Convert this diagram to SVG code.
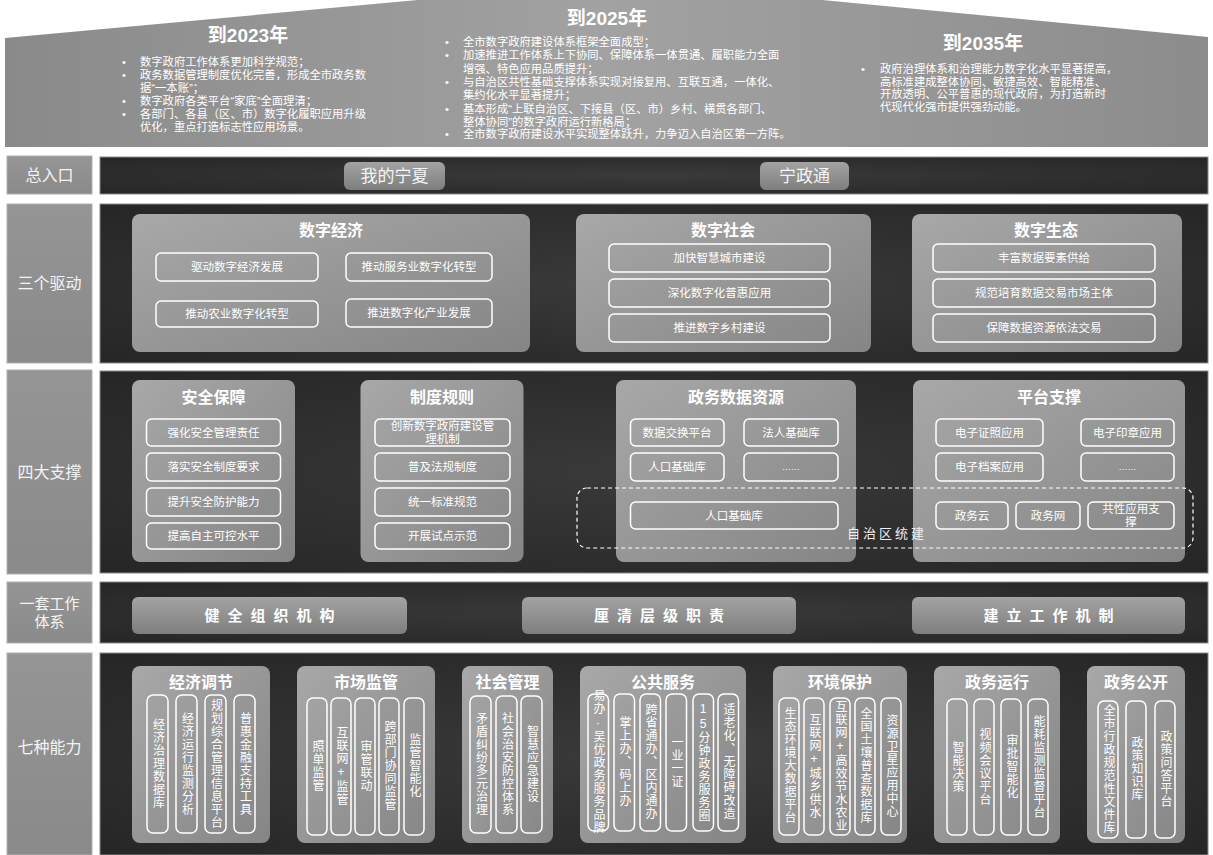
<svg xmlns="http://www.w3.org/2000/svg" width="1213" height="855" viewBox="0 0 1213 855">
<defs>
<linearGradient id="roofG" x1="0" y1="0" x2="1" y2="0">
<stop offset="0" stop-color="#8a8a8a"/><stop offset="0.5" stop-color="#a2a2a2"/><stop offset="1" stop-color="#8c8c8c"/>
</linearGradient>
<radialGradient id="panelG" cx="0.5" cy="0.5" r="0.7">
<stop offset="0" stop-color="#3a3a3a"/><stop offset="1" stop-color="#262626"/>
</radialGradient>
<linearGradient id="cardG" x1="0" y1="0" x2="1" y2="1">
<stop offset="0" stop-color="#a8a8a8"/><stop offset="1" stop-color="#858585"/>
</linearGradient>
<linearGradient id="labelG" x1="0" y1="0" x2="0" y2="1">
<stop offset="0" stop-color="#959595"/><stop offset="1" stop-color="#8a8a8a"/>
</linearGradient>
<linearGradient id="btnG" x1="0" y1="0" x2="0" y2="1">
<stop offset="0" stop-color="#a3a3a3"/><stop offset="1" stop-color="#7e7e7e"/>
</linearGradient>
<style>
text{font-family:'Liberation Sans','Noto Sans CJK SC',sans-serif;fill:#ffffff}
.roof{fill:url(#roofG)}
.yr{font-size:19px;font-weight:bold;text-anchor:middle}
.bl{font-size:11.3px}
.lab{fill:url(#labelG);stroke:#b0b0b0;stroke-width:1}
.labt{font-size:16px;text-anchor:middle;fill:#f4f4f4}
.panel{fill:url(#panelG);stroke:#8a8a8a;stroke-width:1}
.card{fill:url(#cardG)}
.ct{font-size:16px;font-weight:bold;text-anchor:middle}
.sub{fill:none;stroke:#ffffff;stroke-width:1.5}
.st{font-size:11.5px;text-anchor:middle}
.btn{fill:url(#btnG)}
.bt{font-size:17px;text-anchor:middle;fill:#f4f4f4}
.wb{font-size:15px;font-weight:bold;text-anchor:middle;letter-spacing:8px}
.pill{fill:none;stroke:#ffffff;stroke-width:1.5}
.vt{font-size:12px;text-anchor:middle;letter-spacing:1px;writing-mode:vertical-rl;text-orientation:upright}
.dash{fill:none;stroke:#ffffff;stroke-width:1.2;stroke-dasharray:4 3}
</style>
</defs>
<rect width="1213" height="855" fill="#ffffff"/>

<g id="roof">
<polygon class="roof" points="5,38 624,-19 1208,37 1208,147 5,147"/>
<text class="yr" x="248" y="42">到2023年</text>
<text class="bl" x="122" y="66">•</text>
<text class="bl" x="140" y="66">数字政府工作体系更加科学规范；</text>
<text class="bl" x="122" y="79">•</text>
<text class="bl" x="140" y="79">政务数据管理制度优化完善，形成全市政务数</text>
<text class="bl" x="140" y="92">据“一本账”；</text>
<text class="bl" x="122" y="105">•</text>
<text class="bl" x="140" y="105">数字政府各类平台“家底”全面理清；</text>
<text class="bl" x="122" y="118">•</text>
<text class="bl" x="140" y="118">各部门、各县（区、市）数字化履职应用升级</text>
<text class="bl" x="140" y="131">优化，重点打造标志性应用场景。</text>

<text class="yr" x="607" y="25">到2025年</text>
<text class="bl" x="445" y="46">•</text>
<text class="bl" x="463" y="46">全市数字政府建设体系框架全面成型；</text>
<text class="bl" x="445" y="59">•</text>
<text class="bl" x="463" y="59">加速推进工作体系上下协同、保障体系一体贯通、履职能力全面</text>
<text class="bl" x="463" y="72.5">增强、特色应用品质提升；</text>
<text class="bl" x="445" y="86">•</text>
<text class="bl" x="463" y="86">与自治区共性基础支撑体系实现对接复用、互联互通，一体化、</text>
<text class="bl" x="463" y="99">集约化水平显著提升；</text>
<text class="bl" x="445" y="112.5">•</text>
<text class="bl" x="463" y="112.5">基本形成“上联自治区、下接县（区、市）乡村、横贯各部门、</text>
<text class="bl" x="463" y="126">整体协同”的数字政府运行新格局；</text>
<text class="bl" x="445" y="138">•</text>
<text class="bl" x="463" y="138">全市数字政府建设水平实现整体跃升，力争迈入自治区第一方阵。</text>

<text class="yr" x="983" y="50">到2035年</text>
<text class="bl" x="861" y="73">•</text>
<text class="bl" x="880" y="73">政府治理体系和治理能力数字化水平显著提高，</text>
<text class="bl" x="880" y="85.5">高标准建成整体协同、敏捷高效、智能精准、</text>
<text class="bl" x="880" y="98">开放透明、公平普惠的现代政府，为打造新时</text>
<text class="bl" x="880" y="111">代现代化强市提供强劲动能。</text>
</g>

<!-- Row 1 -->
<g id="row-entry">
<rect class="lab" x="7" y="156" width="85" height="38"/>
<text class="labt" x="49.5" y="181">总入口</text>
<rect class="panel" x="100" y="157" width="1108" height="37"/>
</g>
<g id="btn-wodeningxia">
<rect class="btn" x="344" y="162" width="101" height="28" rx="6"/>
<text class="bt" x="394.5" y="182">我的宁夏</text>
</g>
<g id="btn-ningzhengtong">
<rect class="btn" x="760" y="162" width="89" height="28" rx="6"/>
<text class="bt" x="804.5" y="182">宁政通</text>
</g>

<!-- Row 2 -->
<g id="row-drivers">
<rect class="lab" x="7" y="204" width="85" height="159"/>
<text class="labt" x="49.5" y="289">三个驱动</text>
<rect class="panel" x="100" y="204" width="1108" height="159"/>
</g>
<g id="card-digital-economy">
<rect class="card" x="132" y="214" width="398" height="138" rx="8"/>
<text class="ct" x="331" y="236">数字经济</text>
<rect class="sub" x="156" y="253" width="162" height="28" rx="5"/>
<text class="st" x="237" y="271">驱动数字经济发展</text>
<rect class="sub" x="346" y="253" width="146" height="28" rx="5"/>
<text class="st" x="419" y="271">推动服务业数字化转型</text>
<rect class="sub" x="156" y="301" width="162" height="26" rx="5"/>
<text class="st" x="237" y="318">推动农业数字化转型</text>
<rect class="sub" x="346" y="299" width="146" height="28" rx="5"/>
<text class="st" x="419" y="317">推进数字化产业发展</text>
</g>
<g id="card-digital-society">
<rect class="card" x="576" y="214" width="295" height="138" rx="8"/>
<text class="ct" x="723" y="236">数字社会</text>
<rect class="sub" x="609" y="244" width="221" height="28" rx="5"/>
<text class="st" x="719.5" y="262">加快智慧城市建设</text>
<rect class="sub" x="609" y="279" width="221" height="28" rx="5"/>
<text class="st" x="719.5" y="297">深化数字化普惠应用</text>
<rect class="sub" x="609" y="314" width="221" height="28" rx="5"/>
<text class="st" x="719.5" y="332">推进数字乡村建设</text>
</g>
<g id="card-digital-ecology">
<rect class="card" x="912" y="214" width="270" height="138" rx="8"/>
<text class="ct" x="1046" y="236">数字生态</text>
<rect class="sub" x="933" y="244" width="222" height="28" rx="5"/>
<text class="st" x="1044" y="262">丰富数据要素供给</text>
<rect class="sub" x="933" y="279" width="222" height="28" rx="5"/>
<text class="st" x="1044" y="297">规范培育数据交易市场主体</text>
<rect class="sub" x="933" y="314" width="222" height="28" rx="5"/>
<text class="st" x="1044" y="332">保障数据资源依法交易</text>
</g>

<!-- Row 3 -->
<g id="row-supports">
<rect class="lab" x="7" y="370" width="85" height="204"/>
<text class="labt" x="49.5" y="478">四大支撑</text>
<rect class="panel" x="100" y="371" width="1108" height="202"/>
</g>
<g id="card-security">
<rect class="card" x="132" y="380" width="163" height="182" rx="8"/>
<text class="ct" x="213.5" y="403">安全保障</text>
<rect class="sub" x="146.5" y="419" width="134" height="27" rx="5"/>
<text class="st" x="213.5" y="436.5">强化安全管理责任</text>
<rect class="sub" x="146.5" y="453" width="134" height="28" rx="5"/>
<text class="st" x="213.5" y="471">落实安全制度要求</text>
<rect class="sub" x="146.5" y="488" width="134" height="28" rx="5"/>
<text class="st" x="213.5" y="506">提升安全防护能力</text>
<rect class="sub" x="146.5" y="523" width="134" height="26" rx="5"/>
<text class="st" x="213.5" y="540">提高自主可控水平</text>
</g>
<g id="card-rules">
<rect class="card" x="360.5" y="380" width="163" height="182" rx="8"/>
<text class="ct" x="442" y="403">制度规则</text>
<rect class="sub" x="375" y="419" width="135" height="27" rx="5"/>
<text class="st" x="442.5" y="430">创新数字政府建设管</text>
<text class="st" x="442.5" y="443">理机制</text>
<rect class="sub" x="375" y="453" width="135" height="28" rx="5"/>
<text class="st" x="442.5" y="471">普及法规制度</text>
<rect class="sub" x="375" y="488" width="135" height="28" rx="5"/>
<text class="st" x="442.5" y="506">统一标准规范</text>
<rect class="sub" x="375" y="523" width="135" height="26" rx="5"/>
<text class="st" x="442.5" y="540">开展试点示范</text>
</g>
<g id="card-data-resources">
<rect class="card" x="616" y="380" width="240" height="182" rx="8"/>
<text class="ct" x="736" y="403">政务数据资源</text>
<rect class="sub" x="630.5" y="419" width="93.5" height="27" rx="5"/>
<text class="st" x="677" y="436.5">数据交换平台</text>
<rect class="sub" x="744" y="419" width="94" height="27" rx="5"/>
<text class="st" x="791" y="436.5">法人基础库</text>
<rect class="sub" x="630.5" y="453" width="93.5" height="28" rx="5"/>
<text class="st" x="677" y="471">人口基础库</text>
<rect class="sub" x="744" y="453" width="94" height="28" rx="5"/>
<text class="st" x="791" y="470" style="font-size:9px">……</text>
<rect class="sub" x="630.5" y="502" width="207.5" height="27" rx="5"/>
<text class="st" x="734" y="519.5">人口基础库</text>
</g>
<g id="card-platform">
<rect class="card" x="913" y="380" width="272" height="182" rx="8"/>
<text class="ct" x="1049" y="403">平台支撑</text>
<rect class="sub" x="936" y="419" width="107" height="27" rx="5"/>
<text class="st" x="989.5" y="436.5">电子证照应用</text>
<rect class="sub" x="1081" y="419" width="93" height="27" rx="5"/>
<text class="st" x="1127.5" y="436.5">电子印章应用</text>
<rect class="sub" x="936" y="453" width="107" height="28" rx="5"/>
<text class="st" x="989.5" y="471">电子档案应用</text>
<rect class="sub" x="1081" y="453" width="93" height="28" rx="5"/>
<text class="st" x="1127.5" y="470" style="font-size:9px">……</text>
<rect class="sub" x="936" y="502" width="72" height="27" rx="5"/>
<text class="st" x="972" y="519.5">政务云</text>
<rect class="sub" x="1016" y="502" width="64" height="27" rx="5"/>
<text class="st" x="1048" y="519.5">政务网</text>
<rect class="sub" x="1088" y="502" width="86" height="27" rx="5"/>
<text class="st" x="1131" y="513">共性应用支</text>
<text class="st" x="1131" y="526">撑</text>
</g>
<g id="region-build">
<rect class="dash" x="577" y="488" width="616" height="60" rx="10"/>
<text x="887" y="538" style="font-size:13px;text-anchor:middle;letter-spacing:3px;fill:#eeeeee">自治区统建</text>
</g>

<!-- Row 4 -->
<g id="row-work-system">
<rect class="lab" x="7" y="582" width="85" height="61"/>
<text class="labt" x="49.5" y="609" style="font-size:15px">一套工作</text>
<text class="labt" x="49.5" y="627" style="font-size:15px">体系</text>
<rect class="panel" x="100" y="582" width="1108" height="61"/>
</g>
<g id="btn-org">
<rect class="btn" x="132" y="597" width="275" height="37" rx="6"/>
<text class="wb" x="273.5" y="621">健全组织机构</text>
</g>
<g id="btn-duty">
<rect class="btn" x="522" y="597" width="274" height="37" rx="6"/>
<text class="wb" x="663" y="621">厘清层级职责</text>
</g>
<g id="btn-mechanism">
<rect class="btn" x="912" y="597" width="273" height="37" rx="6"/>
<text class="wb" x="1052.5" y="621">建立工作机制</text>
</g>

<!-- Row 5 -->
<g id="row-capabilities">
<rect class="lab" x="7" y="653" width="85" height="202"/>
<text class="labt" x="49.5" y="753">七种能力</text>
<rect class="panel" x="100" y="653" width="1108" height="202"/>
</g>
<g id="card-econ">
<rect class="card" x="132" y="666" width="138" height="177" rx="8"/>
<text class="ct" x="201" y="688">经济调节</text>
<rect class="pill" x="147" y="695" width="21" height="138" rx="6"/>
<text class="vt" x="157.5" y="764">经济治理数据库</text>
<rect class="pill" x="176" y="695" width="21" height="138" rx="6"/>
<text class="vt" x="186.5" y="764">经济运行监测分析</text>
<rect class="pill" x="205" y="695" width="21" height="138" rx="6"/>
<text class="vt" x="215.5" y="764">规划综合管理信息平台</text>
<rect class="pill" x="234" y="695" width="21" height="138" rx="6"/>
<text class="vt" x="244.5" y="764">普惠金融支持工具</text>
</g>
<g id="card-market">
<rect class="card" x="297" y="666" width="138" height="177" rx="8"/>
<text class="ct" x="366" y="688">市场监管</text>
<rect class="pill" x="307" y="698" width="20" height="137" rx="6"/>
<text class="vt" x="317" y="766">照单监管</text>
<rect class="pill" x="331" y="698" width="20" height="137" rx="6"/>
<text class="vt" x="341" y="766">互联网+监管</text>
<rect class="pill" x="355" y="698" width="20" height="137" rx="6"/>
<text class="vt" x="365" y="766">审管联动</text>
<rect class="pill" x="379" y="698" width="20" height="137" rx="6"/>
<text class="vt" x="389" y="766">跨部门协同监管</text>
<rect class="pill" x="404" y="698" width="20" height="137" rx="6"/>
<text class="vt" x="414" y="766">监管智能化</text>
</g>
<g id="card-social">
<rect class="card" x="462" y="666" width="91" height="177" rx="8"/>
<text class="ct" x="507.5" y="688">社会管理</text>
<rect class="pill" x="470" y="696" width="21" height="137" rx="6"/>
<text class="vt" x="480.5" y="764">矛盾纠纷多元治理</text>
<rect class="pill" x="496" y="696" width="21" height="137" rx="6"/>
<text class="vt" x="506.5" y="764">社会治安防控体系</text>
<rect class="pill" x="521" y="696" width="21" height="137" rx="6"/>
<text class="vt" x="531.5" y="764">智慧应急建设</text>
</g>
<g id="card-public">
<rect class="card" x="580" y="666" width="166" height="177" rx="8"/>
<text class="ct" x="663" y="688">公共服务</text>
<rect class="pill" x="588" y="694" width="20.5" height="137" rx="6"/>
<text class="vt" x="598" y="762">易办·吴优政务服务品牌</text>
<rect class="pill" x="614" y="694" width="20.5" height="137" rx="6"/>
<text class="vt" x="624" y="762">掌上办、码上办</text>
<rect class="pill" x="640" y="694" width="20.5" height="137" rx="6"/>
<text class="vt" x="650" y="762">跨省通办、区内通办</text>
<rect class="pill" x="666" y="694" width="20.5" height="137" rx="6"/>
<text class="vt" x="676" y="762">一业一证</text>
<rect class="pill" x="693" y="694" width="20.5" height="137" rx="6"/>
<text class="vt" x="703" y="762">15分钟政务服务圈</text>
<rect class="pill" x="718" y="694" width="20.5" height="137" rx="6"/>
<text class="vt" x="728" y="762">适老化、无障碍改造</text>
</g>
<g id="card-env">
<rect class="card" x="773" y="666" width="134" height="177" rx="8"/>
<text class="ct" x="840" y="688">环境保护</text>
<rect class="pill" x="779" y="698" width="20" height="137" rx="6"/>
<text class="vt" x="789" y="766">生态环境大数据平台</text>
<rect class="pill" x="804" y="698" width="20" height="137" rx="6"/>
<text class="vt" x="814" y="766">互联网+城乡供水</text>
<rect class="pill" x="830" y="698" width="20" height="137" rx="6"/>
<text class="vt" x="840" y="766">互联网+高效节水农业</text>
<rect class="pill" x="855" y="698" width="20" height="137" rx="6"/>
<text class="vt" x="865" y="766">全国土壤普查数据库</text>
<rect class="pill" x="881" y="698" width="20" height="137" rx="6"/>
<text class="vt" x="891" y="766">资源卫星应用中心</text>
</g>
<g id="card-gov-ops">
<rect class="card" x="934" y="666" width="126" height="177" rx="8"/>
<text class="ct" x="997" y="688">政务运行</text>
<rect class="pill" x="947" y="699" width="20" height="136" rx="6"/>
<text class="vt" x="957" y="767">智能决策</text>
<rect class="pill" x="974" y="699" width="20" height="136" rx="6"/>
<text class="vt" x="984" y="767">视频会议平台</text>
<rect class="pill" x="1001" y="699" width="20" height="136" rx="6"/>
<text class="vt" x="1011" y="767">审批智能化</text>
<rect class="pill" x="1028" y="699" width="20" height="136" rx="6"/>
<text class="vt" x="1038" y="767">能耗监测监督平台</text>
</g>
<g id="card-gov-open">
<rect class="card" x="1087" y="666" width="98" height="177" rx="8"/>
<text class="ct" x="1136" y="688">政务公开</text>
<rect class="pill" x="1098" y="701" width="20" height="137" rx="6"/>
<text class="vt" x="1108" y="769">全市行政规范性文件库</text>
<rect class="pill" x="1126" y="701" width="20" height="137" rx="6"/>
<text class="vt" x="1136" y="769">政策知识库</text>
<rect class="pill" x="1155" y="701" width="20" height="137" rx="6"/>
<text class="vt" x="1165" y="769">政策问答平台</text>
</g>
</svg>
